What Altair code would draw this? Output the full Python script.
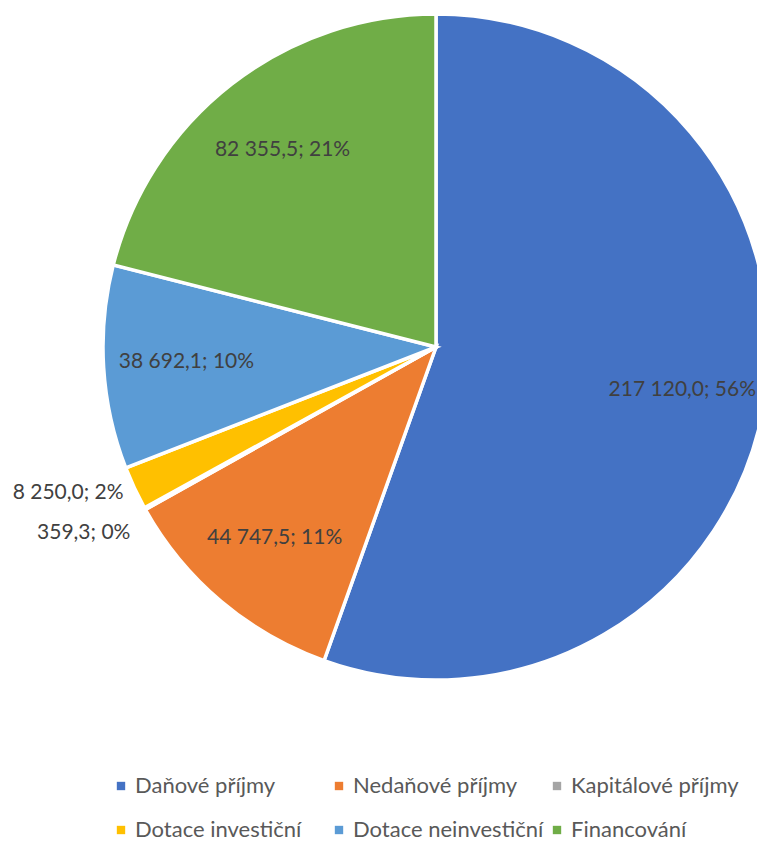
import altair as alt
import pandas as pd

categories = ["Daňové příjmy", "Nedaňové příjmy", "Kapitálové příjmy",
              "Dotace investiční", "Dotace neinvestiční", "Financování"]
values = [217120.0, 44747.5, 359.3, 8250.0, 38692.1, 82355.5]
percents = [56, 11, 0, 2, 10, 21]
colors = ["#4472C4", "#ED7D31", "#A5A5A5", "#FFC000", "#5B9BD5", "#70AD47"]


def cz(v):
    return f"{v:,.1f}".replace(",", " ").replace(".", ",")


df = pd.DataFrame({
    "cat": categories,
    "val": values,
    "idx": list(range(len(categories))),
    "label": [f"{cz(v)}; {p}%" for v, p in zip(values, percents)],
    "pct": percents,
})

FONT = "Lato"
CX, CY = 428, 339

color = alt.Color("cat:N", scale=alt.Scale(domain=categories, range=colors),
                  legend=alt.Legend(title=None, orient="none", legendX=102, legendY=767,
                                    columns=3, direction="horizontal",
                                    symbolType="square", symbolSize=70,
                                    labelFontSize=22, labelFont=FONT, labelColor="#595959",
                                    labelLimit=400,
                                    gridAlign="all", columnPadding=2, rowPadding=22,
                                    labelOffset=3, padding=0, symbolStrokeWidth=0))

base = alt.Chart(df).transform_calculate(
    lab_in="datum.pct >= 5 ? datum.label : ''",
    lab_out_a="datum.pct < 5 && datum.val > 1000 ? datum.label : ''",
    lab_out_b="datum.pct < 5 && datum.val <= 1000 ? datum.label : ''",
).encode(
    theta=alt.Theta("val:Q", stack=True),
    order=alt.Order("idx:Q"),
    x=alt.value(CX), y=alt.value(CY),
)

arcs = base.mark_arc(outerRadius=333, stroke="white", strokeWidth=3.5).encode(color=color)

inside = base.mark_text(radius=250, font=FONT, fontSize=21, color="#404040").encode(
    text="lab_in:N")

outside_a = base.mark_text(radius=345, font=FONT, fontSize=21, color="#404040",
                           align="right").encode(text="lab_out_a:N")
outside_b = base.mark_text(radius=345, font=FONT, fontSize=21, color="#404040",
                           align="right", dy=18, dx=-4).encode(text="lab_out_b:N")

chart = alt.layer(arcs, inside, outside_a, outside_b).properties(
    width=749, height=833, padding=0, autosize=alt.AutoSizeParams(type="none")
).configure_view(stroke=None)

chart.save("out.html", embed_options={"renderer": "svg", "actions": False})
